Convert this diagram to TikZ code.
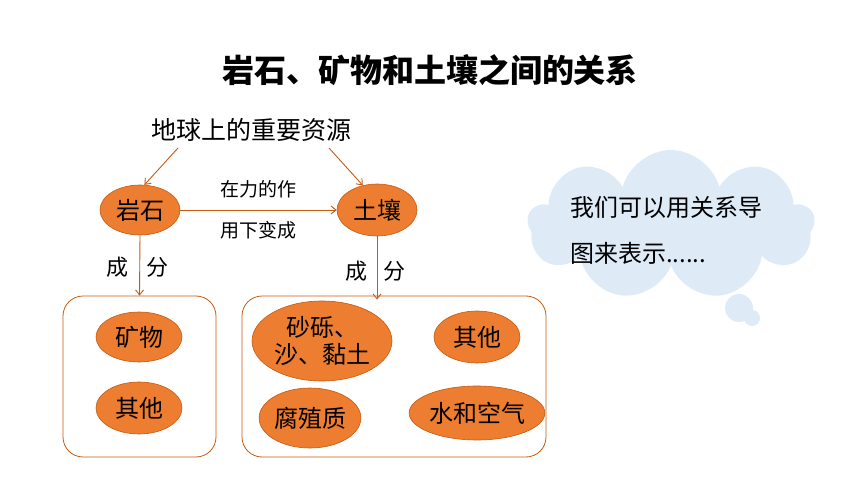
\documentclass[tikz,border=0pt]{standalone}
\usepackage{fontspec}
\newfontfamily\cjk{Noto Sans CJK SC}
\usetikzlibrary{shapes.geometric,shapes.symbols,arrows.meta}
\definecolor{orangefill}{RGB}{237,125,49}
\definecolor{orangeline}{RGB}{197,90,17}
\definecolor{cloudblue}{RGB}{222,235,247}

\begin{document}
\begin{tikzpicture}[x=1pt,y=-1pt]
  \tikzset{>={Straight Barb[length=5pt,width=8pt]}}
  \tikzset{blob/.style={ellipse,draw=orangeline,fill=orangefill,line width=0.6pt,inner sep=0pt,font=\cjk\fontsize{24}{27}\selectfont,align=center},
    link/.style={->,draw=orangeline,line width=0.9pt},
    frame/.style={draw=orangeline,line width=0.8pt,rounded corners=20pt,minimum height=161pt},
    txt/.style={font=\cjk\fontsize{#1}{#1}\selectfont}}

  \useasboundingbox (0,0) rectangle (860,484);

  \node[font=\cjk\bfseries\fontsize{32}{32}\selectfont] (title) at (430,70) {岩石、矿物和土壤之间的关系};
  \node[txt=25] (res) at (251,130) {地球上的重要资源};
  \coordinate (resL) at (178,148);
  \coordinate (resR) at (329,148);

  \node[blob,minimum width=80pt,minimum height=50pt] (rock) at (140,210) {岩石};
  \node[blob,minimum width=80pt,minimum height=52pt] (soil) at (377,210) {土壤};

  \draw[link] (resL) -- (rock.80);
  \draw[link] (resR) -- (soil.120);
  \draw[link] (rock.east) -- (soil.west)
    node[pos=0.5,above=8pt,txt=19,text=black] (force1) {在力的作}
    node[pos=0.5,below=8pt,txt=19,text=black] (force2) {用下变成};

  % boxes of components
  \node[frame,minimum width=153pt] (lbox) at (139.5,376.5) {};
  \node[frame,minimum width=304pt] (rbox) at (394,376.5) {};

  \draw[link] (rock.south) -- (lbox.north)
    node[pos=0.53,left=7pt,txt=22,text=black] (cheng1) {成}
    node[pos=0.53,right=3pt,txt=22,text=black] (fen1) {分};
  \draw[link] (soil.south) -- ([yshift=-4pt]soil.south |- rbox.north)
    node[pos=0.55,left=6pt,txt=22,text=black] (cheng2) {成}
    node[pos=0.55,right=3pt,txt=22,text=black] (fen2) {分};

  \node[blob,minimum width=86pt,minimum height=50pt] (mineral) at (139,337) {矿物};
  \node[blob,minimum width=86pt,minimum height=52pt] (otherL) at (139,408) {其他};

  \node[blob,minimum width=140pt,minimum height=80pt] (sand) at (322,341) {砂砾、\\沙、黏土};
  \node[blob,minimum width=86pt,minimum height=52pt] (otherR) at (477,337) {其他};
  \node[blob,minimum width=96pt,minimum height=60pt] (humus) at (310,418) {腐殖质};
  \node[blob,minimum width=102pt,minimum height=54pt] (water) at (477,413) {水和空气};

  % thought cloud
  \node[cloud,cloud puffs=9,aspect=2,fill=cloudblue,minimum width=287pt,minimum height=150pt,inner sep=0pt] (cloud) at (671,225) {};
  \node[circle,fill=cloudblue,minimum size=28pt,inner sep=0pt] (bub1) at (739,308) {};
  \node[circle,fill=cloudblue,minimum size=16pt,inner sep=0pt] (bub2) at (752,318) {};
  \node[font=\cjk\fontsize{24}{46}\selectfont,align=left] (say) at (666,230) {我们可以用关系导\\图来表示......};

\end{tikzpicture}
\end{document}
